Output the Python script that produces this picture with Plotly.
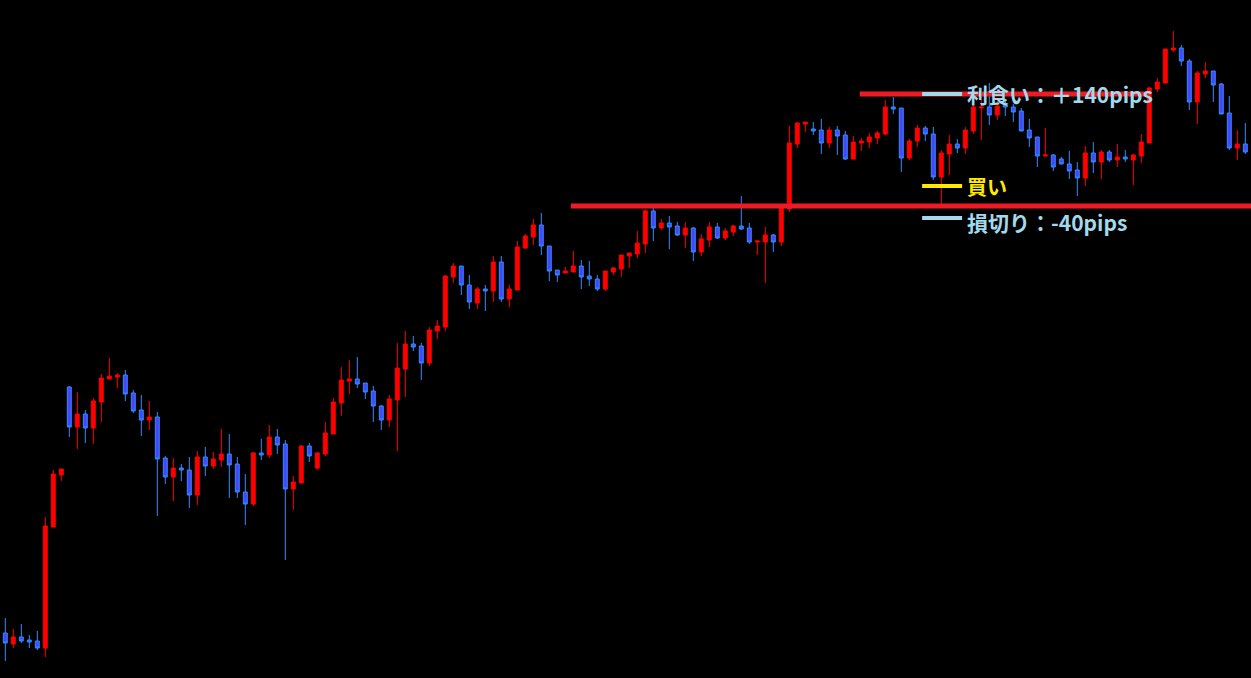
import plotly.graph_objects as go

# ---- data (price in points) ----
open_ = [367,356,363,360,359,352,473,525,613,573,586,572,598,621,623,625,607,590,580,583,
         542,523,532,530,505,543,534,540,546,536,508,496,547,545,563,556,511,517,554,532,
         546,566,597,619,621,617,609,594,580,600,631,656,654,637,669,673,723,734,715,697,
         711,709,738,701,710,752,763,775,754,730,727,728,734,724,721,711,728,731,744,746,
         756,789,772,777,774,765,772,748,760,773,762,768,774,772,758,758,765,758,791,856,
         876,871,870,857,870,865,841,857,858,862,866,893,892,842,859,872,866,823,846,856,
         852,869,892,893,885,895,893,889,870,863,844,845,841,836,830,822,847,838,848,840,
         843,840,844,857,911,917,950,952,939,898,926,929,916,887,852,856]
high = [382,371,376,365,369,483,530,531,614,608,590,602,626,642,627,630,610,605,599,588,
        544,542,536,543,549,553,548,571,566,543,526,548,561,575,571,560,524,555,557,548,
        578,602,633,640,643,617,614,595,605,657,669,664,657,673,680,725,737,734,725,713,
        715,744,744,715,759,766,781,787,754,730,733,749,740,739,725,729,733,745,747,769,
        791,792,781,784,778,778,773,766,778,777,772,775,804,777,759,773,766,795,874,878,
        878,878,881,873,874,869,864,862,867,869,900,903,892,861,875,874,873,850,865,861,
        873,897,900,917,899,899,896,892,881,863,872,846,843,849,838,854,858,850,850,856,
        850,846,866,913,922,951,969,955,941,929,938,929,917,904,870,877]
low = [339,352,357,352,350,343,473,519,563,551,557,556,578,621,612,599,587,564,570,484,
       516,499,519,492,495,524,531,533,502,502,475,494,540,542,546,440,490,517,538,530,
       544,566,584,606,612,601,578,570,573,549,603,649,620,634,661,669,717,705,691,691,
       689,698,698,693,710,751,755,745,719,718,727,728,711,714,709,709,725,723,732,742,
       747,759,770,751,764,752,739,744,753,761,760,764,770,756,745,717,748,754,788,852,
       868,865,846,852,845,840,841,849,852,856,865,886,828,840,853,859,820,796,825,847,
       846,866,860,875,880,884,878,869,853,833,844,829,836,821,804,814,827,821,838,833,
       838,815,837,857,908,917,948,934,890,876,922,898,886,850,840,846]
close = [357,363,359,358,352,474,526,531,573,586,572,599,622,624,625,606,589,580,583,541,
         523,532,530,505,543,534,541,546,535,508,496,547,545,563,555,511,518,554,544,547,
         567,598,620,621,616,608,594,580,601,632,656,653,637,670,674,724,734,715,698,711,
         709,738,701,711,753,764,775,754,729,725,729,734,723,721,711,729,732,745,747,757,
         789,772,777,773,765,772,748,761,773,762,769,774,771,758,759,765,758,793,857,877,
         878,869,857,870,864,841,858,859,863,867,893,891,842,859,872,866,823,847,856,852,
         870,893,893,885,894,893,888,869,862,844,845,833,836,829,822,847,838,848,840,843,
         841,845,858,912,918,951,952,939,898,927,929,915,886,852,856,848]
bars = list(range(len(open_)))

# trade levels
resistance_level = 794
take_profit_level = 906
entry_level = 814
stop_loss_level = 782
resistance_from_bar = 70.7
tp_line_from_bar, tp_line_to_bar = 106.8, 143.1
legend_from_bar, legend_to_bar = 114.6, 119.6
label_bar = 119.96

labels = {"tp": "<b>利食い：＋140pips</b>", "buy": "<b>買い</b>", "sl": "<b>損切り：-40pips</b>"}

RED = "#ff0000"
LINE_RED = "#ed1c24"
LIGHT_BLUE = "#a3d9ea"
YELLOW = "#ffea00"

fig = go.Figure()
fig.add_trace(go.Candlestick(
    x=bars, open=open_, high=high, low=low, close=close,
    increasing=dict(line=dict(color=RED, width=1), fillcolor=RED),
    decreasing=dict(line=dict(color="#2f8cff", width=1), fillcolor="#4646ff"),
    whiskerwidth=0, showlegend=False, hoverinfo="skip",
))

x_min, x_max = -0.6625, 155.7125
fig.add_shape(type="line", x0=resistance_from_bar, x1=x_max, y0=resistance_level, y1=resistance_level,
              line=dict(color=LINE_RED, width=5))
fig.add_shape(type="line", x0=tp_line_from_bar, x1=tp_line_to_bar, y0=take_profit_level, y1=take_profit_level,
              line=dict(color=LINE_RED, width=5))
for lvl, col in [(take_profit_level, LIGHT_BLUE), (entry_level, YELLOW), (stop_loss_level, LIGHT_BLUE)]:
    fig.add_shape(type="line", x0=legend_from_bar, x1=legend_to_bar, y0=lvl, y1=lvl,
                  line=dict(color=col, width=4))

font_family = "Noto Sans CJK JP"
fig.add_annotation(x=label_bar, y=take_profit_level, text=labels["tp"], showarrow=False,
                   xanchor="left", yanchor="middle", font=dict(family=font_family, size=21, color=LIGHT_BLUE))
fig.add_annotation(x=label_bar, y=entry_level, text=labels["buy"], showarrow=False,
                   xanchor="left", yanchor="middle", font=dict(family=font_family, size=20, color=YELLOW))
fig.add_annotation(x=label_bar, y=stop_loss_level - 4, text=labels["sl"], showarrow=False,
                   xanchor="left", yanchor="middle", font=dict(family=font_family, size=21, color=LIGHT_BLUE))

fig.update_layout(
    width=1251, height=678, margin=dict(l=0, r=0, t=0, b=0),
    paper_bgcolor="black", plot_bgcolor="black",
    xaxis=dict(visible=False, range=[x_min, x_max], rangeslider=dict(visible=False), fixedrange=True),
    yaxis=dict(visible=False, range=[322, 1000], fixedrange=True),
    showlegend=False,
)
fig.write_html("out.html", config={"displayModeBar": False},
               post_script="document.body.style.margin='0';document.body.style.background='black';document.body.style.overflow='hidden';")
